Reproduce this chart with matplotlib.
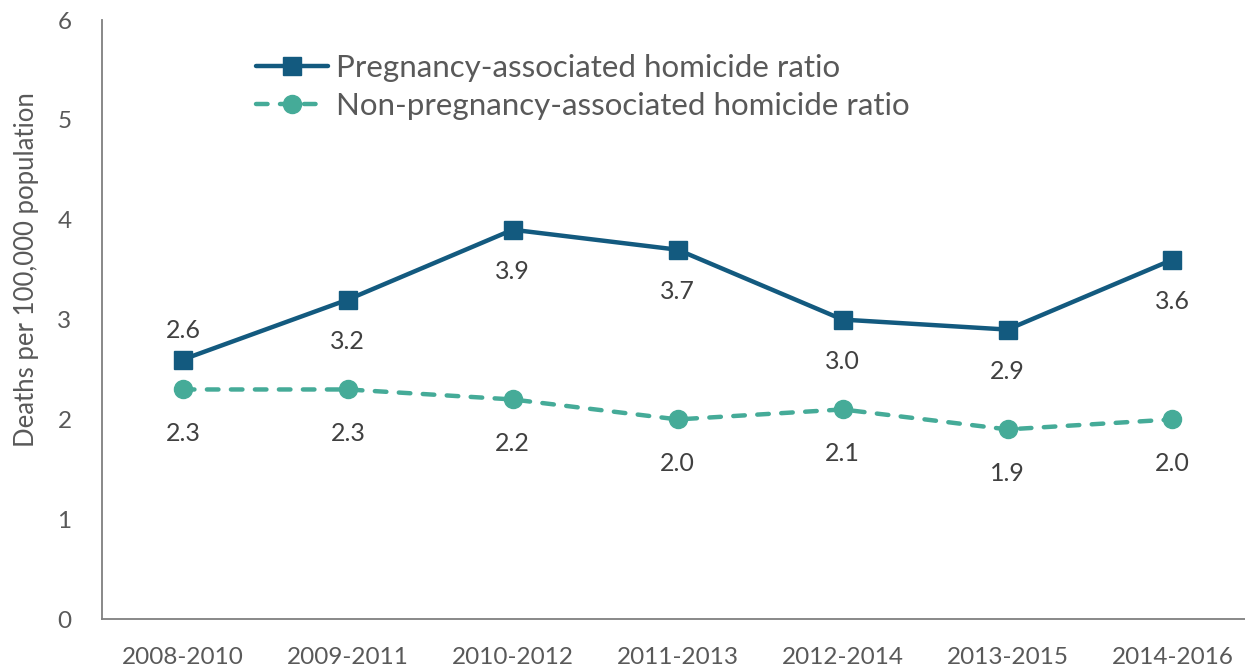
import matplotlib.pyplot as plt

periods = ["2008-2010", "2009-2011", "2010-2012", "2011-2013", "2012-2014", "2013-2015", "2014-2016"]
pregnancy = [2.6, 3.2, 3.9, 3.7, 3.0, 2.9, 3.6]
non_pregnancy = [2.3, 2.3, 2.2, 2.0, 2.1, 1.9, 2.0]

plt.rcParams['font.family'] = ['Lato', 'DejaVu Sans']
grey = "#595959"
blue = "#135a7f"
teal = "#45ab98"

fig = plt.figure(figsize=(12.45, 6.7), dpi=100)
ax = fig.add_axes([0.082, 0.076, 0.918, 0.894])

x = list(range(len(periods)))
ax.plot(x, pregnancy, color=blue, lw=3.2, marker="s", ms=13,
        label="Pregnancy-associated homicide ratio", solid_capstyle="round")
ax.plot(x, non_pregnancy, color=teal, lw=3.2, marker="o", ms=13,
        linestyle=(0, (2.6, 2.8)), dash_capstyle="round",
        label="Non-pregnancy-associated homicide ratio")

# data labels
for i, v in enumerate(pregnancy):
    off = 21 if i == 0 else -30
    ax.annotate(f"{v:.1f}", (i, v), xytext=(0, off), textcoords="offset points",
                ha="center", va="center", fontsize=18, color="#404040")
for i, v in enumerate(non_pregnancy):
    ax.annotate(f"{v:.1f}", (i, v), xytext=(0, -32), textcoords="offset points",
                ha="center", va="center", fontsize=18, color="#404040")

ax.set_ylim(0, 6)
ax.set_xlim(-0.49, 6.44)
ax.set_yticks(range(7))
ax.set_xticks(x)
ax.set_xticklabels(periods)
ax.tick_params(axis="both", length=0, labelsize=17.5, colors=grey)
ax.tick_params(axis="x", pad=20)
ax.tick_params(axis="y", pad=22)
for s in ["top", "right"]:
    ax.spines[s].set_visible(False)
for s in ["left", "bottom"]:
    ax.spines[s].set_color("#7f7f7f")
    ax.spines[s].set_linewidth(1.3)
ax.set_ylabel("Deaths per 100,000 population", fontsize=18.5, color=grey)
ax.yaxis.set_label_coords(-0.055, 0.583)

ax.legend(loc="upper left", bbox_to_anchor=(0.11, 0.99), frameon=False,
          fontsize=22.5, labelcolor=grey, handlelength=2.3, handletextpad=0.25,
          labelspacing=0.3)

fig.savefig("out.png", dpi=100)
